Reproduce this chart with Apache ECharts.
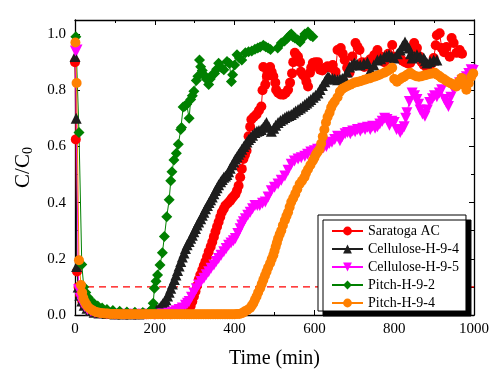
<!DOCTYPE html>
<html lang="en" style="height: 100%">
<head>
  <meta charset="utf-8">
  <title>breakthrough curves</title>
  <style>
    html, body { height: 100%; margin: 0; background: #fff; }
  </style>
</head>
<body>
  <div id="container" style="width: 492px; height: 374px"></div>

  <script type="text/javascript" src="https://cdn.jsdelivr.net/npm/echarts@6.0.0/dist/echarts.min.js"></script>
  <script type="text/javascript">
    // [time (min), C/C0]
    var saratoga = [
      [0,0.9],[2,0.625],[5,0.155],[9,0.1],[13,0.07],[18,0.05],[24,0.035],[31,0.024],[40,0.015],[50,0.01],[62,0.006],
      [80,0.004],[100,0.003],[120,0.003],[140,0.003],[160,0.003],[180,0.003],[200,0.003],[220,0.003],[240,0.003],
      [260,0.004],[275,0.008],[282,0.012],[286,0.019],[290,0.032],[294,0.048],[298,0.066],[302,0.084],[306,0.104],
      [310,0.125],[314,0.142],[319,0.16],[323,0.176],[327,0.19],[331,0.207],[335,0.225],[340,0.243],[344,0.26],
      [348,0.278],[352,0.296],[356,0.314],[360,0.331],[364,0.349],[368,0.366],[373,0.378],[377,0.39],[383,0.398],
      [389,0.407],[393,0.415],[397,0.422],[402,0.43],[406,0.443],[410,0.46],[414,0.49],[418,0.52],[422,0.555],
      [426,0.57],[430,0.585],[435,0.636],[439,0.67],[442,0.696],[448,0.705],[455,0.714],[461,0.728],[467,0.742],
      [470,0.8],[472,0.883],[477,0.82],[481,0.85],[484,0.866],[489,0.883],[493,0.865],[497,0.85],[502,0.827],
      [504,0.802],[509,0.791],[515,0.785],[522,0.784],[528,0.79],[534,0.802],[539,0.827],[544,0.86],[547,0.9],
      [551,0.933],[555,0.925],[559,0.919],[564,0.9],[566,0.866],[571,0.855],[576,0.848],[580,0.83],[584,0.813],
      [589,0.862],[592,0.88],[596,0.897],[602,0.9],[609,0.9],[614,0.873],[620,0.87],[627,0.88],[633,0.885],
      [640,0.88],[646,0.89],[653,0.866],[658,0.943],[666,0.95],[671,0.93],[676,0.908],[682,0.88],[688,0.862],
      [695,0.92],[703,0.968],[708,0.955],[713,0.943],[720,0.9],[725,0.883],[732,0.9],[740,0.91],[750,0.925],
      [758,0.943],[766,0.92],[775,0.9],[785,0.93],[795,0.961],[802,0.919],[808,0.915],[815,0.915],[821,0.905],
      [827,0.9],[834,0.895],[840,0.897],[845,0.94],[850,0.968],[857,0.95],[864,0.92],[869,0.9],[874,0.89],
      [882,0.88],[889,0.873],[894,0.895],[899,0.915],[904,0.96],[907,0.996],[914,1.003],[919,0.95],[925,0.935],
      [931,0.954],[939,0.919],[944,0.986],[949,0.968],[956,0.933],[964,0.943],[970,0.93]
    ];
    var cellulose94 = [
      [0,0.92],[3,0.7],[4,0.173],[8,0.1],[12,0.07],[17,0.05],[23,0.035],[30,0.024],[38,0.016],[48,0.01],[60,0.007],
      [80,0.005],[100,0.004],[120,0.004],[140,0.004],[160,0.004],[175,0.005],[185,0.008],[191,0.011],[195,0.015],
      [200,0.018],[205,0.021],[211,0.025],[216,0.033],[220,0.04],[224,0.047],[228,0.054],[232,0.068],[236,0.081],
      [240,0.095],[244,0.11],[249,0.126],[253,0.142],[257,0.158],[261,0.174],[265,0.19],[269,0.206],[273,0.221],
      [277,0.237],[281,0.25],[286,0.262],[290,0.273],[294,0.284],[298,0.296],[302,0.308],[306,0.32],[310,0.331],
      [315,0.343],[319,0.355],[323,0.366],[327,0.378],[332,0.39],[336,0.4],[340,0.41],[344,0.42],[348,0.432],
      [352,0.443],[356,0.453],[360,0.464],[365,0.474],[369,0.482],[373,0.49],[377,0.495],[381,0.5],[385,0.51],
      [389,0.522],[394,0.535],[398,0.545],[402,0.555],[406,0.563],[410,0.572],[414,0.58],[418,0.59],[423,0.6],
      [427,0.608],[431,0.616],[435,0.625],[440,0.632],[445,0.64],[451,0.65],[456,0.654],[461,0.657],[467,0.66],
      [472,0.668],[476,0.676],[480,0.685],[486,0.67],[492,0.654],[498,0.665],[503,0.675],[509,0.685],[515,0.692],
      [521,0.698],[526,0.703],[531,0.707],[536,0.71],[542,0.714],[548,0.72],[553,0.726],[559,0.731],[565,0.737],
      [571,0.743],[576,0.749],[581,0.755],[586,0.761],[591,0.767],[597,0.775],[603,0.782],[609,0.79],[614,0.803],
      [620,0.817],[626,0.83],[630,0.84],[634,0.848],[638,0.844],[645,0.842],[651,0.84],[658,0.837],[664,0.84],
      [670,0.842],[676,0.844],[682,0.865],[688,0.883],[694,0.89],[700,0.897],[707,0.893],[715,0.89],[724,0.895],
      [733,0.9],[741,0.873],[749,0.89],[758,0.908],[766,0.912],[775,0.919],[781,0.922],[787,0.926],[794,0.92],
      [800,0.915],[808,0.93],[815,0.943],[821,0.958],[827,0.972],[832,0.96],[837,0.95],[841,0.93],[845,0.915],
      [851,0.92],[857,0.926],[865,0.92],[874,0.915],[878,0.905],[882,0.897],[890,0.902],[899,0.908],[907,0.908]
    ];
    var cellulose95 = [
      [1,0.94],[5,0.943],[9,0.09],[13,0.06],[18,0.042],[24,0.03],[31,0.02],[40,0.013],[50,0.009],[62,0.006],
      [80,0.004],[100,0.003],[125,0.003],[150,0.003],[175,0.003],[200,0.003],[220,0.004],[235,0.006],[245,0.01],
      [253,0.015],[261,0.02],[269,0.025],[277,0.035],[282,0.042],[286,0.048],[292,0.063],[298,0.078],[304,0.093],
      [310,0.107],[316,0.119],[323,0.131],[329,0.143],[335,0.154],[341,0.166],[348,0.178],[354,0.19],[360,0.201],
      [366,0.213],[373,0.225],[379,0.237],[385,0.248],[391,0.256],[397,0.264],[402,0.272],[408,0.29],[414,0.307],
      [418,0.32],[422,0.332],[427,0.343],[433,0.355],[439,0.366],[445,0.378],[451,0.39],[457,0.39],[463,0.39],
      [470,0.398],[477,0.402],[484,0.42],[492,0.442],[500,0.455],[509,0.466],[517,0.48],[526,0.495],[534,0.515],
      [542,0.537],[550,0.548],[559,0.555],[567,0.56],[576,0.565],[583,0.572],[591,0.58],[600,0.585],[608,0.59],
      [616,0.59],[623,0.595],[630,0.6],[637,0.61],[644,0.615],[651,0.625],[658,0.636],[664,0.62],[670,0.635],
      [677,0.645],[683,0.65],[690,0.645],[696,0.655],[702,0.652],[708,0.66],[715,0.655],[721,0.665],[727,0.66],
      [733,0.668],[740,0.66],[746,0.672],[752,0.665],[758,0.67],[764,0.68],[770,0.69],[776,0.7],[782,0.696],
      [788,0.675],[794,0.69],[800,0.685],[806,0.66],[815,0.65],[820,0.66],[825,0.67],[829,0.7],[832,0.72],
      [838,0.76],[845,0.79],[851,0.78],[857,0.767],[861,0.75],[865,0.73],[871,0.715],[877,0.707],[883,0.73],
      [889,0.756],[896,0.77],[901,0.78],[907,0.777],[913,0.79],[919,0.802],[926,0.767],[931,0.755],[936,0.742],
      [942,0.775],[949,0.802],[956,0.815],[964,0.827],[970,0.835],[976,0.84],[981,0.848],[987,0.86],[993,0.873],
      [998,0.87]
    ];
    var pitch92 = [
      [2,0.99],[10,0.65],[17,0.18],[22,0.1],[27,0.08],[33,0.062],[40,0.05],[48,0.04],[57,0.032],[68,0.025],
      [80,0.02],[95,0.016],[112,0.013],[130,0.011],[150,0.01],[170,0.009],[186,0.01],[192,0.02],[196,0.042],
      [199,0.095],[203,0.12],[207,0.142],[213,0.178],[219,0.222],[224,0.279],[230,0.35],[236,0.41],[240,0.478],
      [243,0.51],[248,0.552],[254,0.576],[259,0.608],[265,0.66],[267,0.667],[271,0.74],[275,0.743],[280,0.75],
      [286,0.7],[290,0.767],[294,0.78],[298,0.796],[304,0.835],[308,0.85],[312,0.908],[315,0.884],[319,0.87],
      [323,0.855],[329,0.84],[335,0.82],[339,0.84],[344,0.855],[350,0.86],[355,0.875],[360,0.896],[367,0.88],
      [373,0.873],[381,0.902],[387,0.895],[392,0.831],[395,0.855],[400,0.89],[406,0.926],[412,0.915],[418,0.908],
      [427,0.933],[435,0.937],[443,0.94],[451,0.946],[458,0.95],[464,0.954],[472,0.96],[478,0.955],[484,0.95],
      [490,0.945],[508,0.95],[517,0.968],[525,0.975],[532,0.985],[538,0.995],[542,1.0],[546,0.99],[551,0.986],
      [558,0.98],[564,0.972],[570,0.985],[576,1.0],[584,1.007],[590,0.995],[596,0.99]
    ];
    var pitch94 = [
      [1,0.97],[4,0.826],[10,0.195],[15,0.107],[18,0.08],[21,0.06],[25,0.046],[29,0.036],[34,0.027],[40,0.02],
      [46,0.015],[52,0.011],[58,0.009],[64,0.007],[70,0.006],[76,0.005],[82,0.005],[88,0.004],[94,0.004],
      [100,0.004],[106,0.004],[112,0.003],[118,0.003],[124,0.003],[130,0.003],[136,0.003],[142,0.003],[148,0.003],
      [154,0.003],[160,0.003],[166,0.003],[172,0.003],[178,0.003],[184,0.003],[190,0.003],[196,0.003],[202,0.003],
      [208,0.003],[214,0.003],[220,0.003],[226,0.003],[232,0.003],[238,0.003],[244,0.003],[250,0.003],[256,0.003],
      [262,0.003],[268,0.003],[274,0.003],[280,0.003],[286,0.003],[292,0.003],[298,0.003],[304,0.003],[310,0.003],
      [316,0.003],[322,0.003],[328,0.003],[334,0.003],[340,0.003],[346,0.003],[352,0.003],[358,0.003],[364,0.003],
      [370,0.003],[376,0.003],[382,0.003],[388,0.003],[394,0.003],[400,0.003],[406,0.004],[412,0.004],[418,0.006],
      [422,0.009],[426,0.013],[432,0.018],[439,0.025],[443,0.033],[447,0.042],[451,0.054],[455,0.066],[459,0.08],
      [464,0.095],[468,0.11],[472,0.125],[476,0.14],[480,0.154],[484,0.169],[489,0.184],[493,0.199],[497,0.213],
      [500,0.228],[503,0.243],[506,0.257],[509,0.272],[513,0.287],[517,0.301],[521,0.319],[526,0.337],[530,0.352],
      [534,0.366],[538,0.384],[542,0.402],[547,0.416],[552,0.431],[557,0.448],[563,0.466],[569,0.478],[575,0.49],
      [579,0.505],[584,0.519],[590,0.534],[596,0.549],[600,0.56],[604,0.572],[608,0.58],[613,0.59],[617,0.61],
      [621,0.635],[625,0.66],[629,0.685],[633,0.705],[638,0.72],[642,0.738],[646,0.75],[651,0.76],[658,0.775],
      [664,0.795],[670,0.805],[676,0.81],[683,0.815],[690,0.82],[697,0.825],[703,0.828],[710,0.83],[717,0.833],
      [725,0.837],[732,0.84],[740,0.843],[750,0.848],[757,0.852],[765,0.856],[775,0.862],[782,0.868],[789,0.874],
      [795,0.88],[800,0.84],[807,0.83],[814,0.838],[820,0.845],[825,0.848],[832,0.855],[840,0.862],[847,0.855],
      [855,0.85],[862,0.848],[869,0.85],[876,0.853],[882,0.855],[889,0.858],[896,0.86],[902,0.862],[908,0.855],
      [914,0.85],[919,0.844],[926,0.838],[932,0.832],[939,0.827],[945,0.822],[950,0.818],[956,0.813],[962,0.83],
      [969,0.844],[975,0.82],[981,0.802],[987,0.825],[993,0.848],[998,0.86]
    ];
    var seriesNames = ['Saratoga AC', 'Cellulose-H-9-4', 'Cellulose-H-9-5', 'Pitch-H-9-2', 'Pitch-H-9-4'];
    var threshold = 0.1;
    var xMin = 0, xMax = 1000;

    var FONT = 'Liberation Serif';
    var black = '#000';

    var dom = document.getElementById('container');
    var myChart = echarts.init(dom, null, { renderer: 'canvas' });

    function mkSeries(name, data, color, symbol, size, rotate) {
      return {
        name: name,
        type: 'line',
        data: data,
        symbol: symbol,
        symbolSize: size,
        symbolRotate: rotate || 0,
        showAllSymbol: true,
        lineStyle: { color: color, width: 1 },
        itemStyle: { color: color },
        emphasis: { disabled: true }
      };
    }

    var axisCommon = {
      type: 'value',
      axisLine: { onZero: false, lineStyle: { color: black, width: 1.3 } },
      axisTick: { inside: true, length: 5, lineStyle: { color: black } },
      minorTick: { show: true, splitNumber: 2, length: 3, lineStyle: { color: black } },
      splitLine: { show: false },
      minorSplitLine: { show: false }
    };

    // red dashed 10% breakthrough line
    var thresholdLine = {
      name: 'threshold',
      type: 'line',
      data: [[xMin, threshold], [xMax, threshold]],
      symbol: 'none',
      silent: true,
      z: 3,
      lineStyle: { color: '#ff0000', type: [7, 5], width: 1.2 },
      emphasis: { disabled: true }
    };

    var series = [
      mkSeries(seriesNames[0], saratoga, '#ff0000', 'circle', 10),
      mkSeries(seriesNames[1], cellulose94, '#1e1e1e', 'triangle', 11),
      mkSeries(seriesNames[2], cellulose95, '#ff00ff', 'triangle', 11, 180),
      mkSeries(seriesNames[3], pitch92, '#008000', 'diamond', 11),
      mkSeries(seriesNames[4], pitch94, '#ff8000', 'circle', 10),
      thresholdLine
    ];

    var option = {
      animation: false,
      grid: { left: 75, right: 15, top: 20, bottom: 57 },
      legend: {
        data: seriesNames,
        orient: 'vertical',
        left: 318,
        top: 215,
        padding: [9, 7, 1, 13],
        itemWidth: 31,
        itemHeight: 11,
        itemGap: 4,
        backgroundColor: '#fff',
        borderColor: black,
        borderWidth: 1,
        borderRadius: 0,
        shadowColor: black,
        shadowBlur: 0,
        shadowOffsetX: 5,
        shadowOffsetY: 5,
        textStyle: { fontFamily: FONT, fontSize: 14, color: black },
        z: 10
      },
      xAxis: [
        Object.assign({}, axisCommon, {
          position: 'bottom', min: xMin, max: xMax, interval: 200,
          name: 'Time (min)', nameLocation: 'middle', nameGap: 34,
          nameTextStyle: { fontFamily: FONT, fontSize: 20, color: black },
          axisLabel: {
            fontFamily: FONT, fontSize: 15, color: black, margin: 7,
            formatter: function (v) { return String(v); }
          }
        }),
        Object.assign({}, axisCommon, {
          position: 'top', min: xMin, max: xMax, interval: 200,
          axisLabel: { show: false }
        })
      ],
      yAxis: [
        Object.assign({}, axisCommon, {
          position: 'left', min: 0, max: 1.05, interval: 0.2,
          name: '{a|C/C}{b|0}', nameLocation: 'middle', nameGap: 40,
          nameTextStyle: {
            rich: {
              a: { fontFamily: FONT, fontSize: 21, color: black },
              b: { fontFamily: FONT, fontSize: 14, color: black, padding: [10, 0, 0, 0] }
            }
          },
          axisLabel: {
            fontFamily: FONT, fontSize: 15, color: black, margin: 9, showMaxLabel: false,
            formatter: function (v) { return v.toFixed(1); }
          }
        }),
        Object.assign({}, axisCommon, {
          position: 'right', min: 0, max: 1.05, interval: 0.2,
          axisLabel: { show: false }
        })
      ],
      series: series
    };

    myChart.setOption(option);
    window.addEventListener('resize', myChart.resize);
  </script>
</body>
</html>
